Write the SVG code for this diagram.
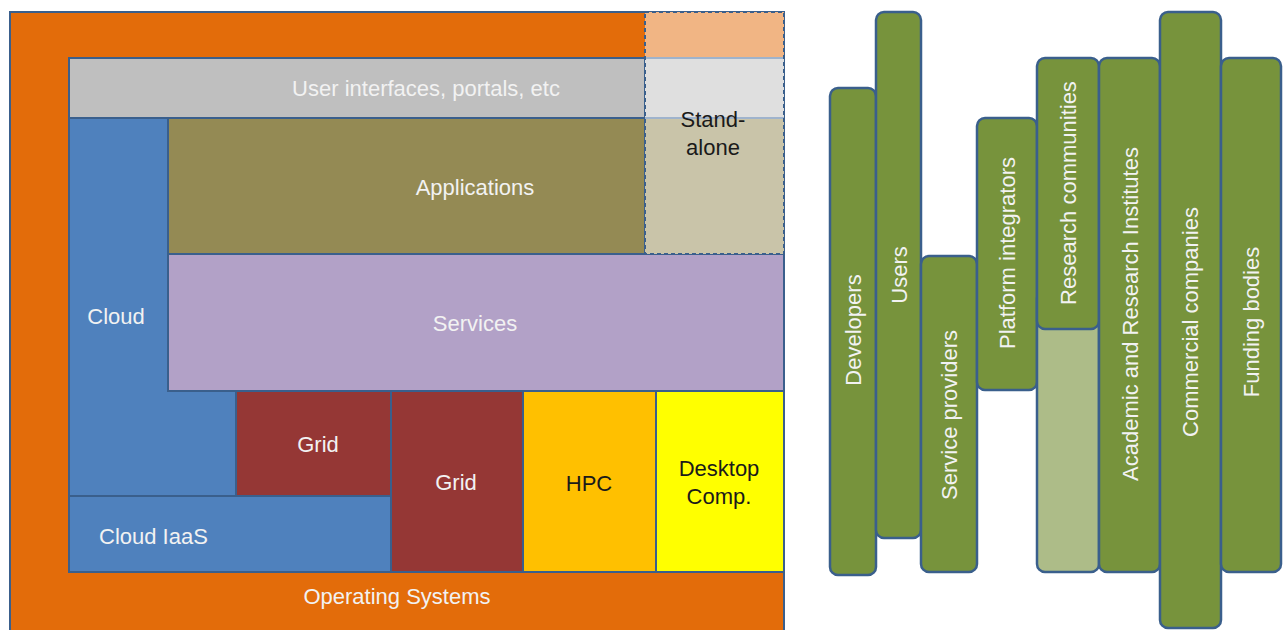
<svg xmlns="http://www.w3.org/2000/svg" width="1284" height="630" viewBox="0 0 1284 630">
<style>
.b{stroke:#3A5F8C;stroke-width:2}
.bar{fill:#77933C;stroke:#3A5F8C;stroke-width:2.5}
text{font-family:"Liberation Sans",Arial,sans-serif;font-size:22px;text-anchor:middle}
.w{fill:#F2F2F2}
.k{fill:#1A1A1A}
</style>
<rect width="1284" height="630" fill="#FFFFFF"/>
<g id="os"><rect class="b" x="10" y="12" width="774" height="630" fill="#E36C0A"/><text class="w" x="397" y="604">Operating Systems</text></g>
<g id="ui"><rect class="b" x="69" y="58" width="576" height="60" fill="#BFBFBF"/><text class="w" x="426" y="96">User interfaces, portals, etc</text></g>
<g id="cloud"><path class="b" d="M69 118H168V391H236V496H69Z" fill="#4F81BD"/><text class="w" x="116" y="324">Cloud</text></g>
<g id="apps"><rect class="b" x="168" y="118" width="477" height="136" fill="#948A54"/><text class="w" x="475" y="195">Applications</text></g>
<g id="services"><rect class="b" x="168" y="254" width="616" height="137" fill="#B2A1C7"/><text class="w" x="475" y="331">Services</text></g>
<g id="grid1"><rect class="b" x="236" y="391" width="155" height="105" fill="#953735"/><text class="w" x="318" y="452">Grid</text></g>
<g id="iaas"><rect class="b" x="69" y="496" width="322" height="76" fill="#4F81BD"/><text class="w" x="99" y="544" style="text-anchor:start">Cloud IaaS</text></g>
<g id="grid2"><rect class="b" x="391" y="391" width="132" height="181" fill="#953735"/><text class="w" x="456" y="490">Grid</text></g>
<g id="hpc"><rect class="b" x="523" y="391" width="133" height="181" fill="#FFC000"/><text class="k" x="589" y="491">HPC</text></g>
<g id="desktop"><rect class="b" x="656" y="391" width="128" height="181" fill="#FFFF00"/><text class="k" x="719" y="476">Desktop</text><text class="k" x="719" y="504">Comp.</text></g>
<g id="standalone">
<rect x="645" y="12" width="139" height="46" fill="#F1B584"/>
<rect x="645" y="58" width="139" height="60" fill="#DFDFDF"/>
<rect x="645" y="118" width="139" height="136" fill="#C9C4A9"/>
<line x1="645" y1="58" x2="784" y2="58" stroke="#9FB3CC" stroke-width="2"/>
<line x1="645" y1="118" x2="784" y2="118" stroke="#9FB3CC" stroke-width="2"/>
<rect x="645" y="12" width="139" height="242" fill="none" stroke="#3A5F8C" stroke-width="2" stroke-dasharray="4 3"/>
<text class="k" x="713" y="127">Stand-</text><text class="k" x="713" y="155">alone</text>
</g>
<g id="developers"><rect class="bar" x="830" y="88" width="46" height="487" rx="8"/><text class="w" transform="translate(853,330) rotate(-90)" y="7.5">Developers</text></g>
<g id="users"><rect class="bar" x="876" y="12" width="45" height="526" rx="8"/><text class="w" transform="translate(899,275) rotate(-90)" y="7.5">Users</text></g>
<g id="serviceproviders"><rect class="bar" x="921" y="256" width="56" height="316" rx="8"/><text class="w" transform="translate(949,415) rotate(-90)" y="7.5">Service providers</text></g>
<g id="platform"><rect class="bar" x="977" y="118" width="60" height="272" rx="8"/><text class="w" transform="translate(1007,253) rotate(-90)" y="7.5">Platform integrators</text></g>
<g id="lightbar"><rect x="1037" y="290" width="62" height="282" rx="8" fill="#ADBC88" stroke="#3A5F8C" stroke-width="2.5"/></g>
<g id="research"><rect class="bar" x="1037" y="58" width="62" height="271" rx="8"/><text class="w" transform="translate(1068,193) rotate(-90)" y="7.5">Research communities</text></g>
<g id="academic"><rect class="bar" x="1099" y="58" width="61" height="514" rx="8"/><text class="w" transform="translate(1130,314) rotate(-90)" y="7.5">Academic and Research Institutes</text></g>
<g id="commercial"><rect class="bar" x="1160" y="12" width="61" height="616" rx="8"/><text class="w" transform="translate(1190,322) rotate(-90)" y="7.5">Commercial companies</text></g>
<g id="funding"><rect class="bar" x="1221" y="58" width="60" height="514" rx="8"/><text class="w" transform="translate(1251,322) rotate(-90)" y="7.5">Funding bodies</text></g>
<g id="connectors"></g>
</svg>
